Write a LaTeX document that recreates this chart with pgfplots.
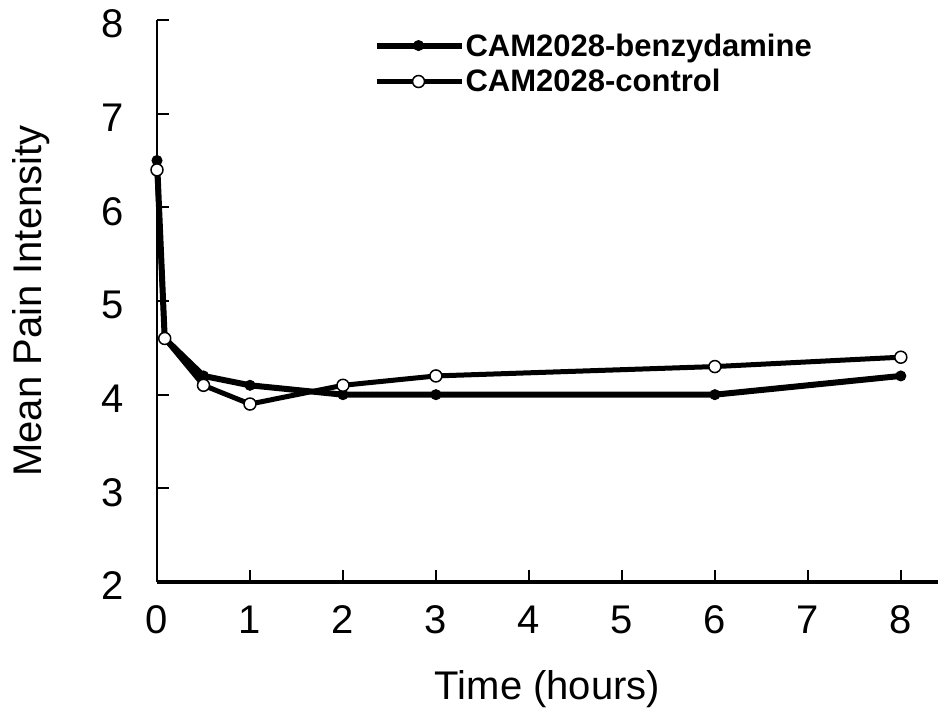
\documentclass[border=0pt]{standalone}
\usepackage{pgfplots}
\pgfplotsset{compat=1.18}
\usepackage{fontspec}
\setmainfont{Liberation Sans}
\begin{document}
\begin{tikzpicture}
\begin{axis}[
  name=ax,
  scale only axis,
  width=781pt, height=562pt,
  xmin=0, xmax=8.4, ymin=2, ymax=8,
  axis lines=left,
  axis line style={-},
  x axis line style={line width=4pt},
  y axis line style={line width=2pt},
  xtick={0,1,...,8}, ytick={2,3,...,8},
  tick align=inside,
  major tick length=12pt,
  major tick style={line width=2pt, black},
  /pgf/number format/assume math mode=true,
  tick label style={font=\fontsize{40}{48}\selectfont},
  yticklabel style={xshift=-30pt, yshift=-4pt},
  xticklabel style={yshift=-20pt},
  label style={font=\fontsize{40}{48}\selectfont},
  xlabel={Time (hours)},
  ylabel={Mean Pain Intensity},
  xlabel style={at={(axis description cs:0.5,-0.19)}, anchor=center},
  ylabel style={at={(axis description cs:-0.161,0.5)}, anchor=center},
  clip=false,
  legend style={at={(axis description cs:0.277,0.978)}, anchor=north west, draw=none, fill=none,
    font=\bfseries\fontsize{31}{37}\selectfont, inner sep=0pt, nodes={inner sep=1pt}, row sep=10pt},
  legend cell align=left,
  legend image code/.code={\draw[mark repeat=2,mark phase=2,#1] plot coordinates {(0pt,0pt) (42pt,0pt) (85pt,0pt)};},
]
\addplot[black, line width=6pt, mark=*, mark size=5pt, mark options={solid, fill=black, line width=1pt}]
  coordinates {(0,6.5) (0.083,4.6) (0.5,4.2) (1,4.1) (2,4.0) (3,4.0) (6,4.0) (8,4.2)};
\addlegendentry{CAM2028-benzydamine}
\addplot[black, line width=5pt, mark=*, mark size=6pt, mark options={solid, fill=white, draw=black, line width=1.5pt}]
  coordinates {(0,6.4) (0.083,4.6) (0.5,4.1) (1,3.9) (2,4.1) (3,4.2) (6,4.3) (8,4.4)};
\addlegendentry{CAM2028-control}
\end{axis}
\pgfresetboundingbox
\path[use as bounding box] ([xshift=-157pt,yshift=-135pt]ax.south west) rectangle ([yshift=20pt]ax.north east);
\end{tikzpicture}
\end{document}
